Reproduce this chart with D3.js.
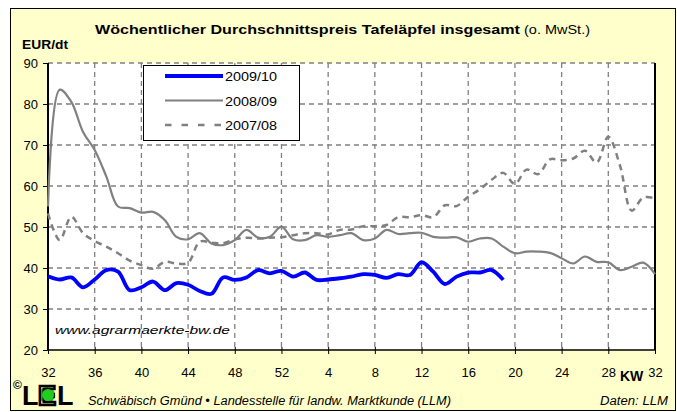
<!DOCTYPE html>
<html><head><meta charset="utf-8">
<script src="https://cdn.jsdelivr.net/npm/d3@7"></script>
<style>body{margin:0;background:#fff}</style>
</head><body>
<svg id="c" width="677" height="412"></svg>
<script>
// ---- data ----
const weeks = [32,33,34,35,36,37,38,39,40,41,42,43,44,45,46,47,48,49,50,51,52,
  1,2,3,4,5,6,7,8,9,10,11,12,13,14,15,16,17,18,19,20,21,22,23,24,25,26,27,28,29,30,31,32];
const xTickLabels = ["32","36","40","44","48","52","4","8","12","16","20","24","28","32"];
const yTicks = [20,30,40,50,60,70,80,90];
const seriesNames = ["2009/10","2008/09","2007/08"];
const series0910 = [38,37.2,37.7,35.3,37.2,39.5,39.1,34.6,35.3,36.7,34.6,36.3,35.9,34.4,33.7,37.7,37.1,37.7,39.5,38.7,39.3,
  37.9,38.9,37.1,37.2,37.5,37.9,38.5,38.3,37.6,38.5,38.3,41.4,39.1,36.1,37.9,38.9,38.9,39.5,37.1];
const series0809 = [55,83.5,80.5,73.2,68.8,62.3,55,54.6,53.5,53.7,51.7,47.6,47,48.5,46,45.6,46.8,49.3,47.4,47.6,50.1,
  47,46.8,48,47.6,48,48.5,46.8,47.2,49.3,48.3,48.5,48.6,47.6,47.4,47.5,46.4,47.2,47.2,45.2,43.6,44,44,43.7,42.4,41.1,42.8,41.5,41.4,39.5,40.3,41.3,38.5];
const series0708 = [53.3,46.8,52.5,48.5,46.6,45.2,43.6,41.8,40.7,39.8,41.5,41.1,41.3,46.4,46.2,46,47,47.4,47.2,47.4,47.5,
  48,48.5,48.5,48.2,49.3,49.4,50.2,50.2,50.5,52.4,52.4,52.9,52.4,55.3,55.1,57.4,59.2,61.5,63.2,60.5,64,62.9,66.5,66.3,66.7,68.6,65.7,72,65,54,57.2,57];

// ---- layout ----
const svg = d3.select("#c");
const font = "'Liberation Sans', Arial, sans-serif";
const L = 48, R = 655, T = 63, B = 350;
const x = d3.scaleLinear().domain([0, weeks.length - 1]).range([L, R]);
const y = d3.scaleLinear().domain([20, 90]).range([B, T]);
const grey = "#808080";

svg.append("rect").attr("x",10.5).attr("y",8.5).attr("width",665).attr("height",402)
  .attr("fill","#FFFFCC").attr("stroke","#000").attr("stroke-width",1);
svg.append("rect").attr("x",L).attr("y",T).attr("width",R-L).attr("height",B-T).attr("fill","#fff");

// grid
const xTickIdx = xTickLabels.map((d,i)=>i*4);
svg.append("g").selectAll("line").data(yTicks.filter(v=>v>20)).join("line")
  .attr("x1",L).attr("x2",R).attr("y1",d=>y(d)).attr("y2",d=>y(d))
  .attr("stroke",grey).attr("stroke-width",1.6).attr("stroke-dasharray","5,4");
svg.append("g").selectAll("line").data(xTickIdx.filter(i=>i>0 && i<weeks.length-1)).join("line")
  .attr("x1",d=>x(d)).attr("x2",d=>x(d)).attr("y1",T).attr("y2",B)
  .attr("stroke",grey).attr("stroke-width",1.3).attr("stroke-dasharray","5,4");

// axes
const yAxis = d3.axisLeft(y).tickValues(yTicks).tickSize(5).tickPadding(5).tickFormat(d3.format("d"));
const gy = svg.append("g").attr("transform",`translate(${L},0)`).call(yAxis);
gy.select(".domain").attr("stroke","#000").attr("stroke-width",2).attr("d",`M0,${T}V${B}`);
gy.selectAll("text").attr("font-family",font).attr("font-size",13).attr("fill","#000");

const xAxis = d3.axisBottom(x).tickValues(xTickIdx).tickSize(4).tickPadding(14)
  .tickFormat((d,i)=>xTickLabels[i]);
const gx = svg.append("g").attr("transform",`translate(0,${B})`).call(xAxis);
gx.select(".domain").attr("stroke","#000").attr("stroke-width",1.5).attr("d",`M${L},0H${R}`);
gx.selectAll("text").attr("font-family",font).attr("font-size",13).attr("fill","#000");
gx.selectAll(".tick line").attr("y1",-3);
svg.append("line").attr("x1",R).attr("x2",R).attr("y1",T).attr("y2",B).attr("stroke","#000").attr("stroke-width",2);

// lines
const line = d3.line().x((d,i)=>x(i)).y(d=>y(d)).curve(d3.curveCatmullRom.alpha(0.5));
svg.append("path").datum(series0708).attr("d",line).attr("fill","none")
  .attr("stroke",grey).attr("stroke-width",2.5).attr("stroke-dasharray","6.5,5");
svg.append("path").datum(series0809).attr("d",line).attr("fill","none")
  .attr("stroke",grey).attr("stroke-width",2.2);
svg.append("path").datum(series0910).attr("d",line).attr("fill","none")
  .attr("stroke","#0000FF").attr("stroke-width",3.8);

// legend
const lg = svg.append("g");
lg.append("rect").attr("x",143.5).attr("y",65.5).attr("width",156).attr("height",75)
  .attr("fill","#fff").attr("stroke","#000").attr("stroke-width",1);
const legStyles = [{c:"#0000FF",w:3.8,d:null},{c:grey,w:2.2,d:null},{c:grey,w:2.5,d:"6.5,10"}];
seriesNames.forEach((n,i)=>{
  const yy = 76 + i*24.5;
  lg.append("line").attr("x1",165).attr("x2",223).attr("y1",yy).attr("y2",yy)
    .attr("stroke",legStyles[i].c).attr("stroke-width",legStyles[i].w)
    .attr("stroke-dasharray",legStyles[i].d);
  lg.append("text").attr("x",225).attr("y",yy+5).text(n)
    .attr("font-family",font).attr("font-size",13).attr("textLength",52).attr("lengthAdjust","spacingAndGlyphs");
});

// texts
svg.append("text").attr("x",95).attr("y",34).text("Wöchentlicher Durchschnittspreis Tafeläpfel insgesamt")
  .attr("font-family",font).attr("font-weight","bold").attr("font-size",13.5)
  .attr("textLength",425).attr("lengthAdjust","spacingAndGlyphs");
svg.append("text").attr("x",524).attr("y",34).text("(o. MwSt.)")
  .attr("font-family",font).attr("font-size",13).attr("textLength",66).attr("lengthAdjust","spacingAndGlyphs");
svg.append("text").attr("x",22).attr("y",49).text("EUR/dt")
  .attr("font-family",font).attr("font-weight","bold").attr("font-size",13)
  .attr("textLength",46).attr("lengthAdjust","spacingAndGlyphs");
svg.append("text").attr("x",620).attr("y",381).text("KW")
  .attr("font-family",font).attr("font-weight","bold").attr("font-size",14);
svg.append("text").attr("x",55).attr("y",334).text("www.agrarmaerkte-bw.de")
  .attr("font-family",font).attr("font-style","italic").attr("font-size",11)
  .attr("textLength",175).attr("lengthAdjust","spacingAndGlyphs");

// footer
svg.append("text").attr("x",13).attr("y",389).text("©").attr("font-family",font).attr("font-weight","bold").attr("font-size",12);
svg.append("text").attr("x",22).attr("y",405).text("L").attr("font-family",font).attr("font-weight","bold").attr("font-size",27);
svg.append("circle").attr("cx",47).attr("cy",395).attr("r",8).attr("fill","#22CC22");
svg.append("text").attr("x",38).attr("y",405).text("E").attr("font-family",font).attr("font-weight","bold").attr("font-size",27)
  .attr("fill","none").attr("stroke","#000").attr("stroke-width",2.5);
svg.append("circle").attr("cx",48).attr("cy",395).attr("r",6).attr("fill","#22CC22");
svg.append("text").attr("x",57).attr("y",405).text("L").attr("font-family",font).attr("font-weight","bold").attr("font-size",27);
svg.append("text").attr("x",88).attr("y",405).text("Schwäbisch Gmünd • Landesstelle für landw. Marktkunde (LLM)")
  .attr("font-family",font).attr("font-style","italic").attr("font-size",12.5)
  .attr("textLength",363).attr("lengthAdjust","spacingAndGlyphs");
svg.append("text").attr("x",600).attr("y",405).text("Daten: LLM")
  .attr("font-family",font).attr("font-style","italic").attr("font-size",12.5)
  .attr("textLength",68).attr("lengthAdjust","spacingAndGlyphs");
</script>
</body></html>
